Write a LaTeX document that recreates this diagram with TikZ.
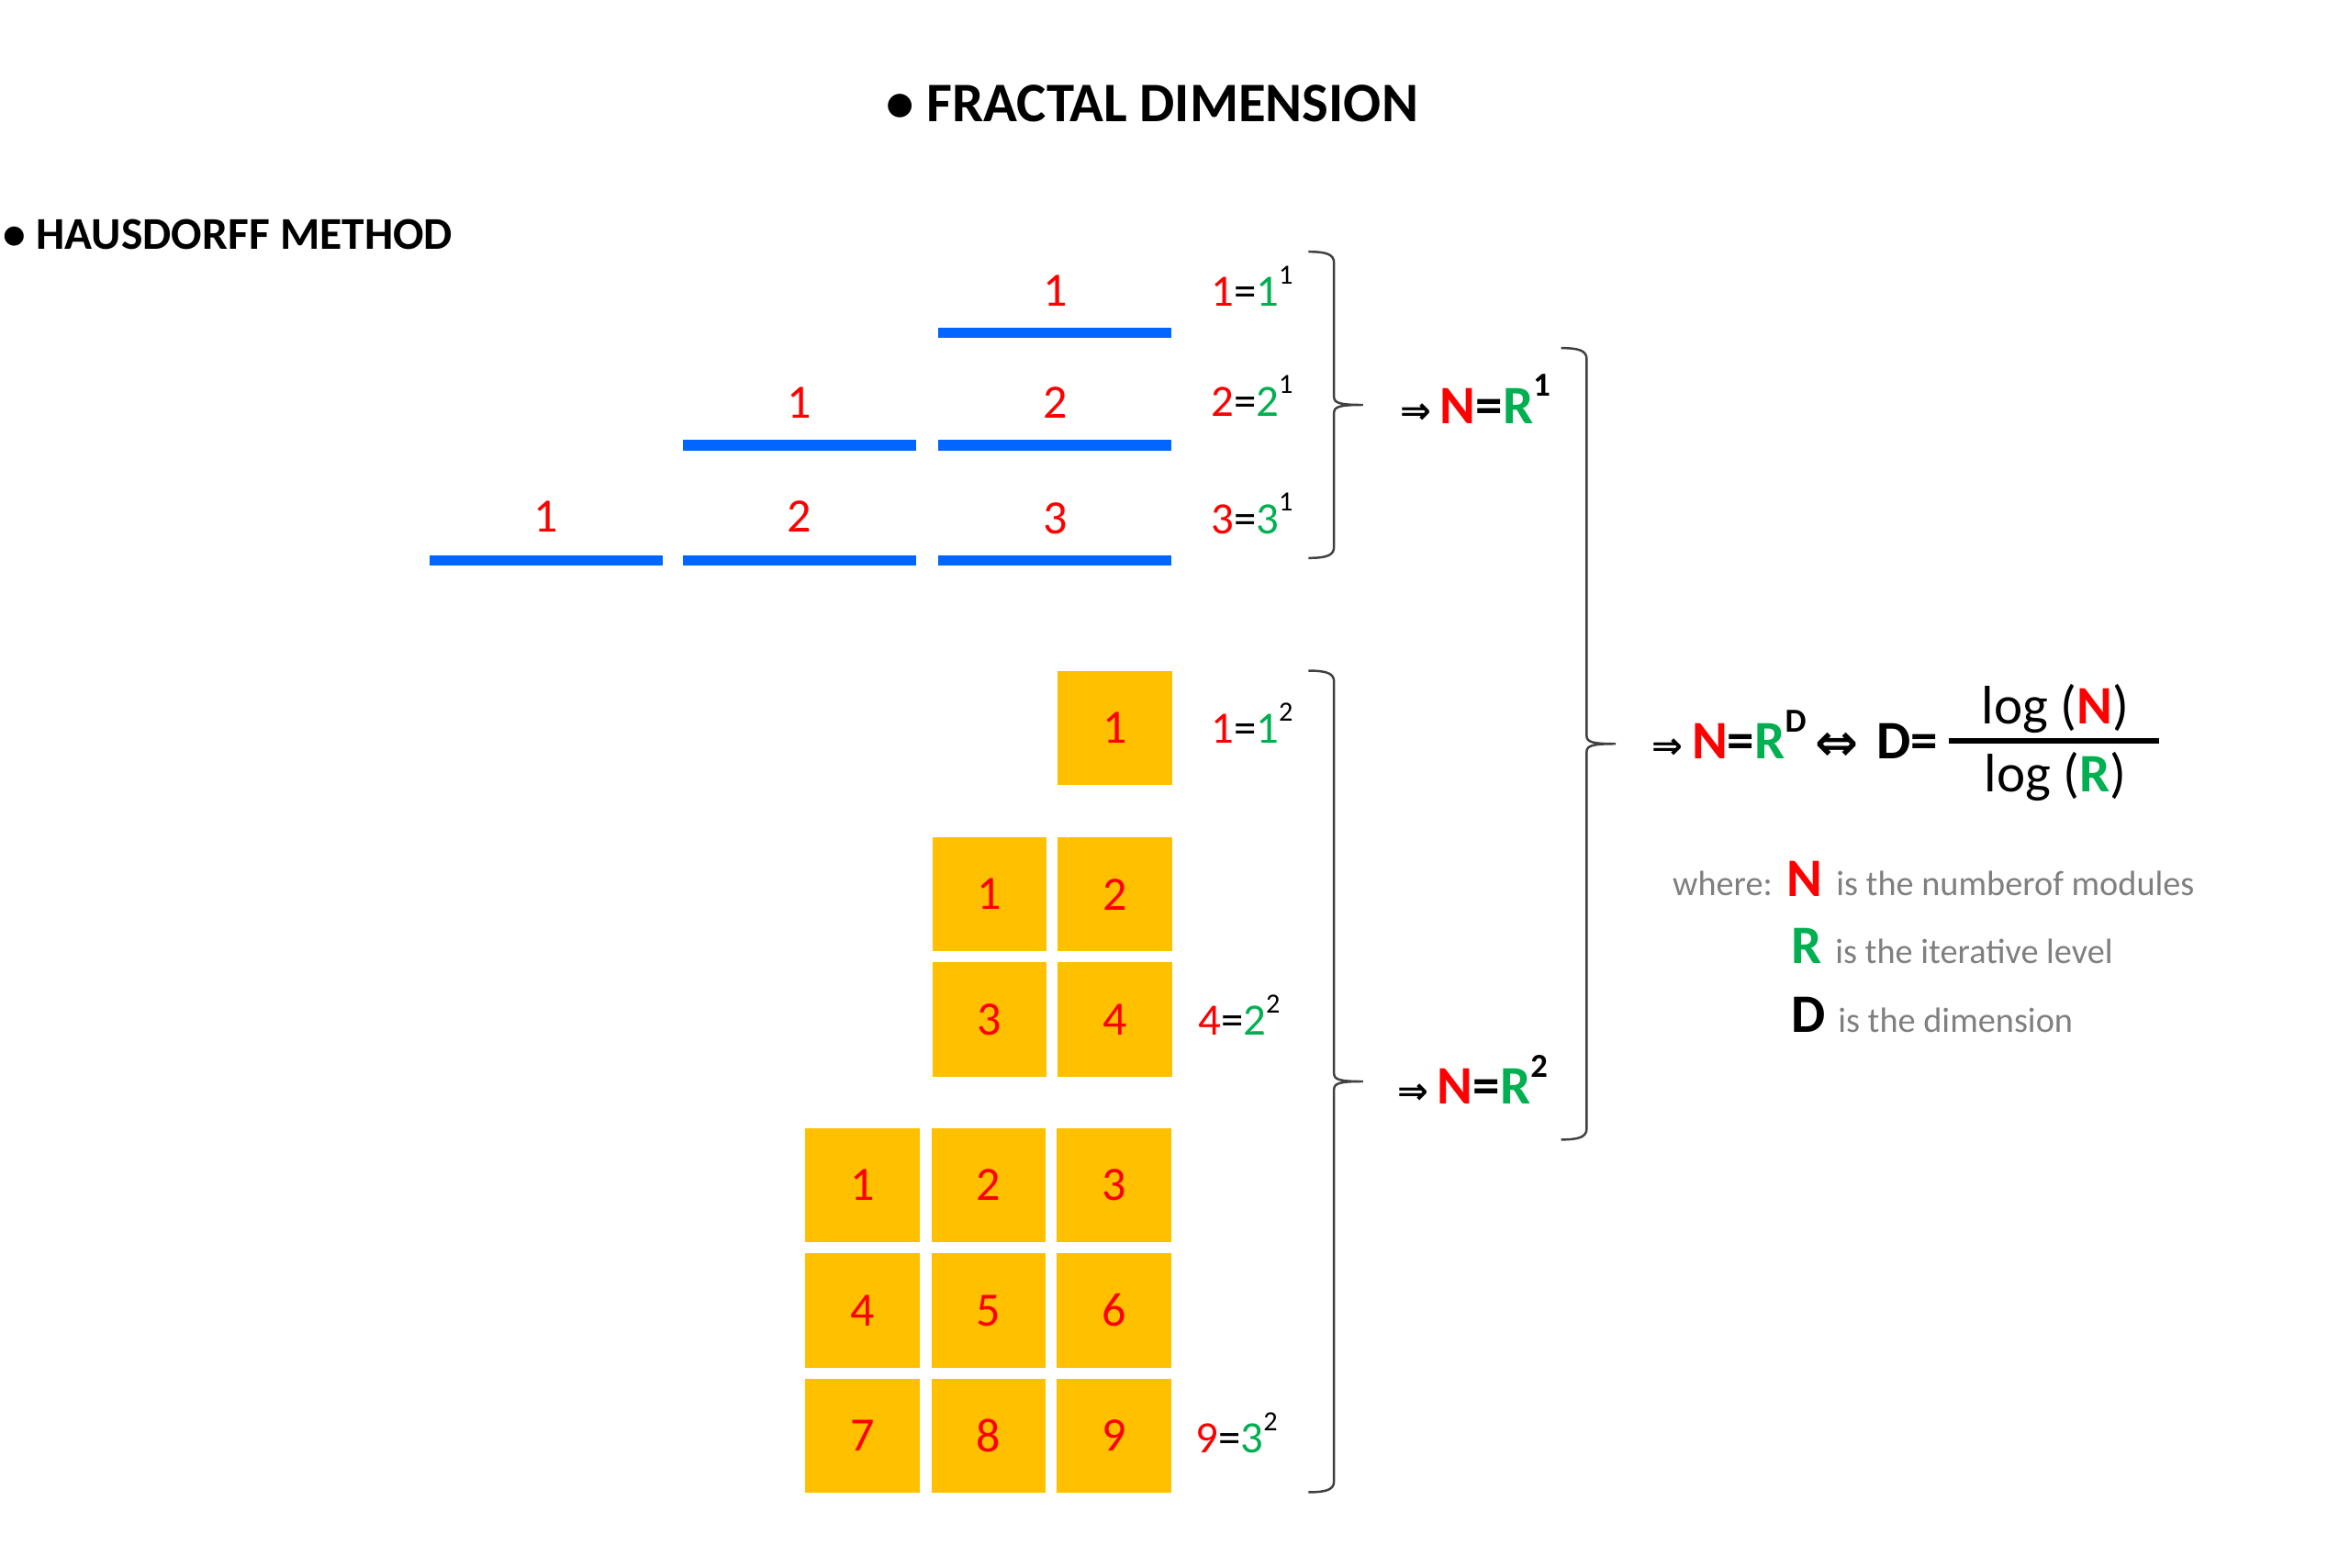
\documentclass[tikz,border=0pt]{standalone}
\usepackage{fontspec}
\setmainfont{Carlito}
\newfontfamily\arrowfont{DejaVu Sans}
\usepackage{graphicx}
\usetikzlibrary{positioning}

\definecolor{numred}{HTML}{FF0000}
\definecolor{numgreen}{HTML}{00B050}
\definecolor{segblue}{HTML}{0066FF}
\definecolor{tileorange}{HTML}{FFC000}
\definecolor{notegray}{HTML}{7F7F7F}
\definecolor{bracegray}{HTML}{404040}

\newcommand{\pw}[1]{\raisebox{0.5em}{\scalebox{0.62}{#1}}}
\newcommand{\rd}[1]{\textcolor{numred}{#1}}
\newcommand{\gr}[1]{\textcolor{numgreen}{#1}}
\newcommand{\impl}{{\fontsize{11.5}{11.5}\arrowfont\bfseries ⇒}}
\newcommand{\iffarrow}{\raisebox{-0.6pt}{\fontsize{16}{16}\arrowfont\bfseries ⇔}}
% right brace: hook x, top y, bottom y
\newcommand{\sidebrace}[3]{%
  \draw[curly] (#1,#2) .. controls ({#1+20},#2) and ({#1+28},{#2+3}) .. ({#1+28},{#2+12})
    -- ({#1+28},{(#2+#3)/2-9}) .. controls ({#1+28},{(#2+#3)/2-2}) and ({#1+34},{(#2+#3)/2}) .. ({#1+60},{(#2+#3)/2})
    .. controls ({#1+34},{(#2+#3)/2}) and ({#1+28},{(#2+#3)/2+2}) .. ({#1+28},{(#2+#3)/2+9})
    -- ({#1+28},{#3-12}) .. controls ({#1+28},{#3-3}) and ({#1+20},#3) .. (#1,#3);}

\tikzset{
  head/.style={inner sep=0pt, font=\fontsize{17.3}{17.3}\selectfont\bfseries},
  sub/.style={inner sep=0pt, font=\fontsize{14.1}{14.1}\selectfont\bfseries},
  seg/.style={fill=segblue, minimum width=2.544cm, minimum height=0.114cm, inner sep=0pt},
  tile/.style={fill=tileorange, minimum size=1.247cm, inner sep=0pt, text=numred, font=\fontsize{14.85}{14.85}\selectfont},
  num/.style={text=numred, inner sep=0pt, font=\fontsize{14.85}{14.85}\selectfont},
  eqn/.style={anchor=base west, inner sep=0pt, font=\fontsize{13.9}{13.9}\selectfont},
  law/.style={anchor=base west, inner sep=0pt, font=\fontsize{16.8}{16.8}\selectfont\bfseries},
  note/.style={anchor=base west, inner sep=0pt, text=notegray, font=\fontsize{10.9}{10.9}\selectfont},
  letter/.style={anchor=base west, inner sep=0pt, font=\fontsize{16.8}{16.8}\selectfont\bfseries},
  curly/.style={draw=bracegray, line width=0.7pt},
}

\begin{document}
\begin{tikzpicture}[x=0.0099cm, y=-0.0099cm]
\useasboundingbox (0,0) rectangle (2574,1725);

\node[head, anchor=base] (title) at (1268,134) {• FRACTAL DIMENSION};
\node[sub, anchor=base west] (method) at (3,274) {• HAUSDORFF METHOD};

% segments
\node[seg] (s11) at (1161,366) {};
\node[seg] (s21) at (880,490) {};
\node[seg] (s22) at (1161,490) {};
\node[seg] (s31) at (601,617) {};
\node[seg] (s32) at (880,617) {};
\node[seg] (s33) at (1161,617) {};
\node[num, above=0.22cm of s11] (n11) {1};
\node[num, above=0.22cm of s21] (n21) {1};
\node[num, above=0.22cm of s22] (n22) {2};
\node[num, above=0.24cm of s31] (n31) {1};
\node[num, above=0.24cm of s32] (n32) {2};
\node[num, above=0.22cm of s33] (n33) {3};

\node[eqn] (e11) at (1332,337) {\rd{1}=\gr{1}\pw{1}};
\node[eqn] (e12) at (1332,458) {\rd{2}=\gr{2}\pw{1}};
\node[eqn] (e13) at (1332,587) {\rd{3}=\gr{3}\pw{1}};

% squares
\node[tile] (q11) at (1227,801) {1};
\node[tile] (q21) at (1089,984) {1};
\node[tile] (q22) at (1227,984) {2};
\node[tile] (q23) at (1089,1122) {3};
\node[tile] (q24) at (1227,1122) {4};
\node[tile] (q31) at (949,1304) {1};
\node[tile] (q32) at (1088,1304) {2};
\node[tile] (q33) at (1226,1304) {3};
\node[tile] (q34) at (949,1442) {4};
\node[tile] (q35) at (1088,1442) {5};
\node[tile] (q36) at (1226,1442) {6};
\node[tile] (q37) at (949,1580) {7};
\node[tile] (q38) at (1088,1580) {8};
\node[tile] (q39) at (1226,1580) {9};

\node[eqn] (e21) at (1332,818) {\rd{1}=\gr{1}\pw{2}};
\node[eqn] (e22) at (1318,1139) {\rd{4}=\gr{2}\pw{2}};
\node[eqn] (e23) at (1315,1599) {\rd{9}=\gr{3}\pw{2}};

% braces and laws
\sidebrace{1440}{277}{614}
\sidebrace{1440}{738}{1642}
\sidebrace{1718}{383}{1254}
\node[law] (law1) at (1540,466) {\impl\,\rd{N}=\gr{R}\pw{1}};
\node[law] (law2) at (1537,1215) {\impl\,\rd{N}=\gr{R}\pw{2}};

% general formula
\node[law] (lawD) at (1817,835) {\impl\,\rd{N}=\gr{R}\pw{D}\,\iffarrow\,\,D=};
\coordinate (fl) at (2145,815);
\coordinate (fr) at (2376,815);
\draw[line width=1.7pt] (fl) -- (fr);
\node[anchor=base, inner sep=0pt, font=\fontsize{16.8}{16.8}\selectfont] (numer) at (2262,797) {log (\textbf{\rd{N}})};
\node[anchor=base, inner sep=0pt, font=\fontsize{16.8}{16.8}\selectfont] (denom) at (2262,871) {log (\textbf{\gr{R}})};

% legend
\node[note] (where) at (1840,985) {where:};
\node[letter, text=numred] (kN) at (1966,986) {N};
\node[note] (tN) at (2020,985) {is the numberof modules};
\node[letter, text=numgreen] (kR) at (1971,1060) {R};
\node[note] (tR) at (2019,1060) {is the iterative level};
\node[letter] (kD) at (1971,1136) {D};
\node[note] (tD) at (2022,1136) {is the dimension};
\end{tikzpicture}
\end{document}
